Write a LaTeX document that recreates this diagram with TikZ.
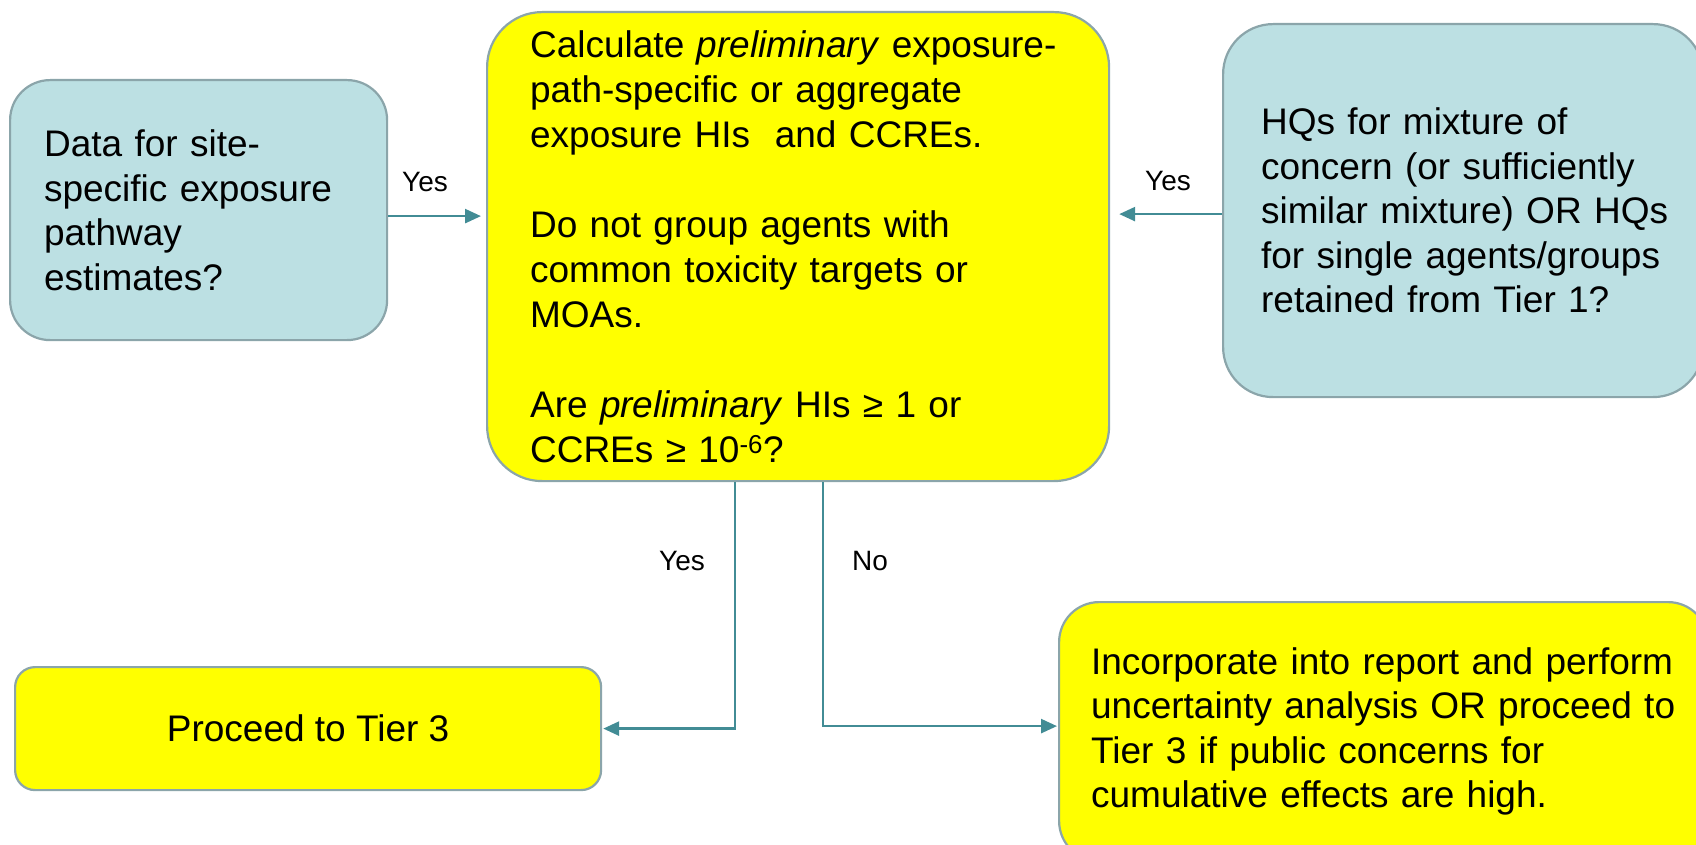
\documentclass[tikz,border=0pt]{standalone}
\usepackage{fontspec}
\setmainfont{Liberation Sans}
\usetikzlibrary{arrows.meta}
\definecolor{boxblue}{HTML}{BCE0E3}
\definecolor{boxline}{HTML}{8BA5AA}
\definecolor{flowteal}{HTML}{428C95}
\definecolor{boxyellow}{HTML}{FFFF00}
\tikzset{
  box/.style={draw=boxline, line width=2.2pt, rectangle, anchor=north west,
    inner sep=0pt, font=\fontsize{37}{44.5}\selectfont},
  query/.style={box, fill=boxblue, align=left},
  action/.style={box, fill=boxyellow},
  flow/.style={draw=flowteal, line width=2.6pt, -{Triangle[length=16pt,width=14pt]}},
  lbl/.style={anchor=base, inner sep=0pt, font=\fontsize{28}{32}\selectfont},
}
\begin{document}
\begin{tikzpicture}[x=1pt,y=-1pt]
  \path[use as bounding box] (0,0) rectangle (1696,845);
  \clip (0,0) rectangle (1696,845);

  % question boxes
  \node[query, rounded corners=40pt, minimum width=377pt, minimum height=260pt,
        text width=309pt] (data) at (9,79)
    {Data for site-\\specific exposure\\pathway\\estimates?};
  \node[query, rounded corners=50pt, minimum width=480pt, minimum height=373pt,
        text width=404pt] (hq) at (1222,23)
    {HQs for mixture of\\concern (or sufficiently\\\mbox{similar mixture) OR HQs}\\for single agents/groups\\retained from Tier 1?};

  % central calculation step
  \node[action, align=left, rounded corners=55pt, minimum width=622pt, minimum height=469pt,
        text width=536pt, font=\fontsize{37}{45}\selectfont] (calc) at (486,11)
    {Calculate \textit{preliminary} exposure-\\path-specific or aggregate\\exposure HIs\ \ and CCREs.\\[45pt]
     Do not group agents with\\common toxicity targets or\\MOAs.\\[45pt]
     Are \textit{preliminary} HIs ≥ 1 or\\CCREs ≥ 10\textsuperscript{-6}?};

  % outcomes
  \node[action, align=center, rounded corners=20pt, minimum width=586pt, minimum height=123pt]
    (tier) at (14,666) {Proceed to Tier 3};
  \node[action, align=left, rounded corners=40pt, minimum width=649pt, minimum height=259pt,
        text width=585pt] (incorp) at (1058,601)
    {Incorporate into report and perform\\uncertainty analysis OR proceed to\\Tier 3 if public concerns for\\cumulative effects are high.};

  % connectors
  \draw[flow, shorten >=5pt] ([yshift=-6pt]data.east) -- ([yshift=-6pt]data.east -| calc.west);
  \draw[flow, shorten >=9pt] ([yshift=-3.5pt]hq.west) -- ([yshift=-3.5pt]hq.west -| calc.east);
  \draw[flow, shorten >=1pt] ([xshift=-63pt]calc.south) |- (tier.east);
  \draw[flow, shorten >=1pt] ([xshift=25pt]calc.south) |- ([yshift=5.5pt]incorp.west);

  % connector labels
  \node[lbl] (yesdata) at (425,192) {Yes};
  \node[lbl] (yeshq) at (1168,190) {Yes};
  \node[lbl] (yestier) at (682,570) {Yes};
  \node[lbl] (noincorp) at (870,570) {No};
\end{tikzpicture}
\end{document}
